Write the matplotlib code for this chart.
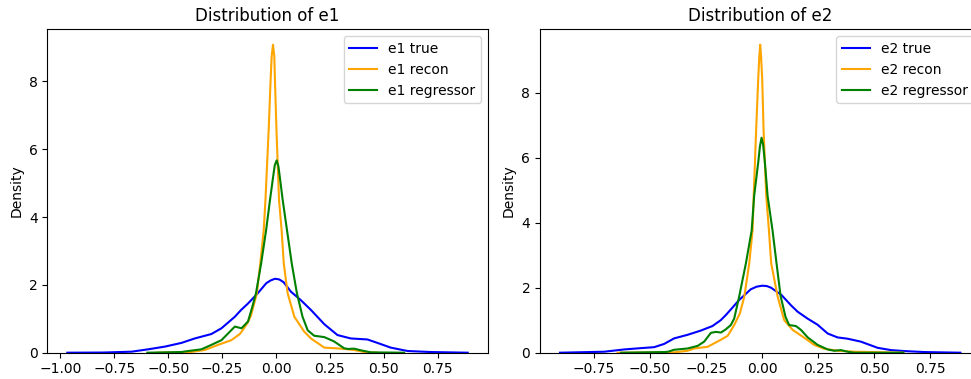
import matplotlib
matplotlib.use("Agg")
import matplotlib.pyplot as plt

# Density curves (x, density) for e1
e1_true_x = [-0.968, -0.80, -0.67, -0.593, -0.515, -0.438, -0.377, -0.30, -0.253, -0.191,
             -0.162, -0.13, -0.085, -0.045, -0.025, -0.005, 0.015, 0.035, 0.069, 0.115,
             0.162, 0.224, 0.285, 0.347, 0.424, 0.47, 0.532, 0.61, 0.717, 0.889]
e1_true_y = [0.0, 0.005, 0.03, 0.10, 0.18, 0.29, 0.42, 0.55, 0.72, 1.06,
             1.26, 1.45, 1.75, 2.05, 2.13, 2.18, 2.16, 2.08, 1.80, 1.55,
             1.26, 0.84, 0.52, 0.42, 0.39, 0.29, 0.15, 0.05, 0.02, 0.0]

e1_recon_x = [-0.55, -0.407, -0.33, -0.269, -0.207, -0.168, -0.154, -0.13, -0.116, -0.089,
              -0.073, -0.057, -0.049, -0.034, -0.025, -0.02, -0.014, -0.008, -0.005, 0.002,
              0.014, 0.026, 0.036, 0.054, 0.085, 0.131, 0.162, 0.224, 0.30, 0.362,
              0.41, 0.47]
e1_recon_y = [0.0, 0.01, 0.08, 0.23, 0.37, 0.55, 0.67, 0.90, 1.10, 1.75,
              2.63, 3.61, 4.50, 6.58, 8.05, 8.75, 9.08, 8.75, 8.05, 6.58,
              4.50, 3.61, 2.63, 1.75, 1.06, 0.62, 0.42, 0.15, 0.12, 0.08,
              0.02, 0.0]

e1_reg_x = [-0.597, -0.44, -0.407, -0.346, -0.30, -0.253, -0.222, -0.191, -0.16, -0.13,
            -0.11, -0.093, -0.069, -0.046, -0.028, -0.015, -0.006, 0.003, 0.011, 0.019,
            0.031, 0.051, 0.073, 0.097, 0.123, 0.147, 0.177, 0.224, 0.27, 0.316,
            0.335, 0.362, 0.394, 0.44, 0.594]
e1_reg_y = [0.0, 0.02, 0.05, 0.10, 0.23, 0.37, 0.57, 0.77, 0.72, 0.92,
            1.35, 1.75, 2.63, 3.61, 4.50, 5.11, 5.52, 5.67, 5.50, 5.11,
            4.50, 3.61, 2.63, 1.75, 1.06, 0.66, 0.50, 0.46, 0.33, 0.13,
            0.11, 0.12, 0.07, 0.01, 0.0]

# Density curves (x, density) for e2
e2_true_x = [-0.902, -0.705, -0.616, -0.542, -0.482, -0.4375, -0.393, -0.333, -0.274, -0.222,
             -0.185, -0.162, -0.14, -0.103, -0.051, -0.025, 0.0, 0.02, 0.039, 0.085,
             0.128, 0.158, 0.202, 0.247, 0.292, 0.336, 0.381, 0.44, 0.515, 0.574,
             0.634, 0.723, 0.884]
e2_true_y = [0.0, 0.03, 0.10, 0.14, 0.17, 0.27, 0.44, 0.55, 0.68, 0.82,
             1.00, 1.16, 1.33, 1.62, 1.95, 2.03, 2.06, 2.05, 2.00, 1.78,
             1.46, 1.26, 1.05, 0.86, 0.59, 0.47, 0.43, 0.34, 0.15, 0.08,
             0.05, 0.02, 0.0]

e2_recon_x = [-0.645, -0.393, -0.333, -0.304, -0.244, -0.184, -0.154, -0.125, -0.10, -0.08,
              -0.058, -0.043, -0.038, -0.027, -0.018, -0.013, -0.009, -0.005, 0.0, 0.006,
              0.018, 0.030, 0.040, 0.069, 0.098, 0.136, 0.1875, 0.232, 0.277, 0.337,
              0.41, 0.63]
e2_recon_y = [0.0, 0.01, 0.06, 0.13, 0.18, 0.40, 0.52, 0.85, 1.20, 1.72,
              2.74, 3.76, 4.82, 6.86, 8.40, 9.10, 9.47, 9.10, 8.40, 6.86,
              4.82, 3.76, 2.75, 1.72, 1.00, 0.70, 0.46, 0.24, 0.12, 0.06,
              0.03, 0.0]

e2_reg_x = [-0.63, -0.4375, -0.42, -0.393, -0.333, -0.288, -0.259, -0.229, -0.207, -0.184,
            -0.162, -0.14, -0.125, -0.103, -0.073, -0.047, -0.036, -0.018, -0.010, -0.003,
            0.004, 0.012, 0.024, 0.046, 0.064, 0.082, 0.104, 0.12, 0.15, 0.173,
            0.203, 0.247, 0.292, 0.321, 0.351, 0.381, 0.41, 0.63]
e2_reg_y = [0.0, 0.02, 0.03, 0.09, 0.13, 0.21, 0.34, 0.61, 0.64, 0.62,
            0.72, 0.85, 1.05, 1.72, 2.74, 3.76, 4.82, 5.84, 6.35, 6.61,
            6.40, 5.84, 4.82, 3.76, 2.74, 1.74, 1.10, 0.85, 0.82, 0.70,
            0.47, 0.24, 0.10, 0.06, 0.08, 0.03, 0.0, 0.0]

panels = [
    ("e1", [(e1_true_x, e1_true_y), (e1_recon_x, e1_recon_y), (e1_reg_x, e1_reg_y)]),
    ("e2", [(e2_true_x, e2_true_y), (e2_recon_x, e2_recon_y), (e2_reg_x, e2_reg_y)]),
]
suffixes = ["true", "recon", "regressor"]
colors = ["blue", "orange", "green"]

W, H = 971, 379
fig = plt.figure(figsize=(W / 100, H / 100), dpi=100)
ax_w, ax_h = 440.4, 323.4
bottom = (H - 352.7) / H
lefts = [47.3, 540.0]

for left, (name, curves) in zip(lefts, panels):
    ax = fig.add_axes([left / W, bottom, ax_w / W, ax_h / H])
    ymax = 0.0
    for (xs, ys), suf, col in zip(curves, suffixes, colors):
        ax.plot(xs, ys, color=col, lw=1.5, label=f"{name} {suf}")
        ymax = max(ymax, max(ys))
    ax.set_ylim(0, ymax * 1.05)
    ax.set_title(f"Distribution of {name}")
    ax.set_ylabel("Density")
    ax.legend(loc="upper right")

fig.savefig("out.png", dpi=100)
